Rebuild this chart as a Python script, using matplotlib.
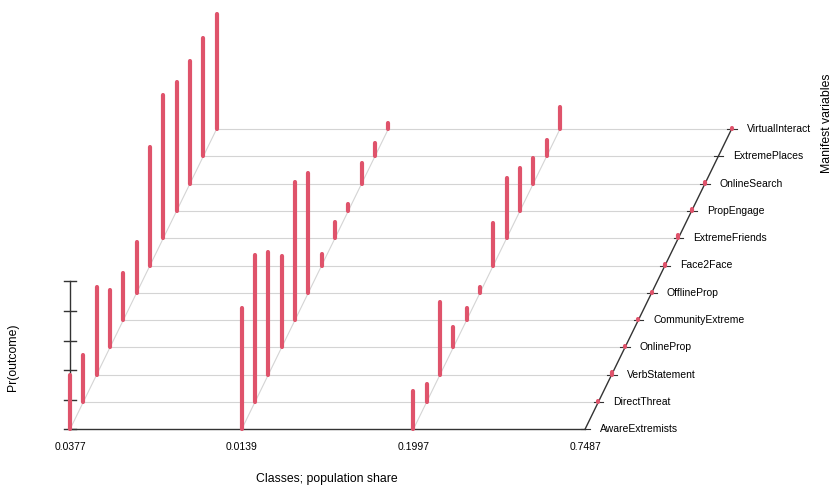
import numpy as np
import matplotlib
matplotlib.use("Agg")
import matplotlib.pyplot as plt

plt.rcParams['font.family'] = ['Liberation Sans', 'DejaVu Sans']

# class labels (population share) and manifest variables
class_labels = ["0.0377", "0.0139", "0.1997", "0.7487"]
variables = ["AwareExtremists", "DirectThreat", "VerbStatement", "OnlineProp",
             "CommunityExtreme", "OfflineProp", "Face2Face", "ExtremeFriends",
             "PropEngage", "OnlineSearch", "ExtremePlaces", "VirtualInteract"]

# Pr(outcome) per class, in the order of variables
class1 = [0.37, 0.32, 0.59, 0.39, 0.32, 0.34, 0.80, 0.97, 0.87, 0.83, 0.80, 0.78]
class2 = [0.82, 0.99, 0.83, 0.62, 0.93, 0.81, 0.08, 0.11, 0.05, 0.14, 0.09, 0.04]
class3 = [0.26, 0.12, 0.49, 0.14, 0.08, 0.04, 0.29, 0.41, 0.29, 0.17, 0.11, 0.15]
class4 = [0.003, 0.005, 0.02, 0.008, 0.005, 0.005, 0.01, 0.02, 0.015, 0.01, 0.003, 0.005]
probs = np.array([class1, class2, class3, class4])

W, H = 833, 487
fig = plt.figure(figsize=(W / 100, H / 100), dpi=100)
ax = fig.add_axes([0, 0, 1, 1])
ax.set_xlim(0, W)
ax.set_ylim(H, 0)
ax.axis("off")

# oblique projection (persp-like)
x0, y0 = 70.0, 429.3
class_step = 171.67
dx, dy = 13.33, 27.3
zscale = 148.0

def proj(ci, vj, p=0.0):
    return x0 + ci * class_step + vj * dx, y0 - vj * dy - p * zscale

n_cls = len(class_labels)
n_var = len(variables)
grid_col = "#d4d4d4"
axis_col = "#333333"
red = "#DF536B"

# horizontal depth lines
for j in range(n_var):
    xa, ya = proj(0, j)
    xb, yb = proj(n_cls - 1, j)
    col = axis_col if j == 0 else grid_col
    ax.plot([xa, xb], [ya, yb], color=col, lw=1.0 if j == 0 else 0.8, zorder=1)

# diagonal lines from each class
for i in range(n_cls):
    xa, ya = proj(i, 0)
    xb, yb = proj(i, n_var - 1)
    col = axis_col if i == n_cls - 1 else grid_col
    ax.plot([xa, xb], [ya, yb], color=col, lw=1.0 if i == n_cls - 1 else 0.8, zorder=1)

# probability axis
xa, ya = proj(0, 0, 0)
xb, yb = proj(0, 0, 1)
ax.plot([xa, xb], [ya, yb], color=axis_col, lw=1.0, zorder=1)
for t in np.linspace(0, 1, 6):
    xt, yt = proj(0, 0, t)
    ax.plot([xt - 6, xt + 6], [yt, yt], color=axis_col, lw=1.0, zorder=1)

# ticks on depth axis
for j in range(n_var):
    xt, yt = proj(n_cls - 1, j)
    ax.plot([xt - 4.5, xt + 5], [yt, yt], color=axis_col, lw=0.8, zorder=1)

# bars
for j in range(n_var):
    for i in range(n_cls):
        xa, ya = proj(i, j, 0)
        xb, yb = proj(i, j, probs[i, j])
        ax.plot([xa, xb], [ya, yb], color=red, lw=3.0,
                solid_capstyle="round", zorder=3)

# labels
for i, lab in enumerate(class_labels):
    xt, yt = proj(i, 0)
    ax.text(xt, yt + 18, lab, ha="center", va="center", fontsize=7.5)

for j, lab in enumerate(variables):
    xt, yt = proj(n_cls - 1, j)
    ax.text(xt + 15, yt, lab, ha="left", va="center", fontsize=7.5)

ax.text(326.5, 479, "Classes; population share", ha="center", va="center", fontsize=8.8)
ax.text(13.5, 357, "Pr(outcome)", ha="center", va="center", rotation=90, fontsize=8.8)
ax.text(827.5, 123, "Manifest variables", ha="center", va="center", rotation=90, fontsize=8.8)

fig.savefig("out.png", dpi=100)
